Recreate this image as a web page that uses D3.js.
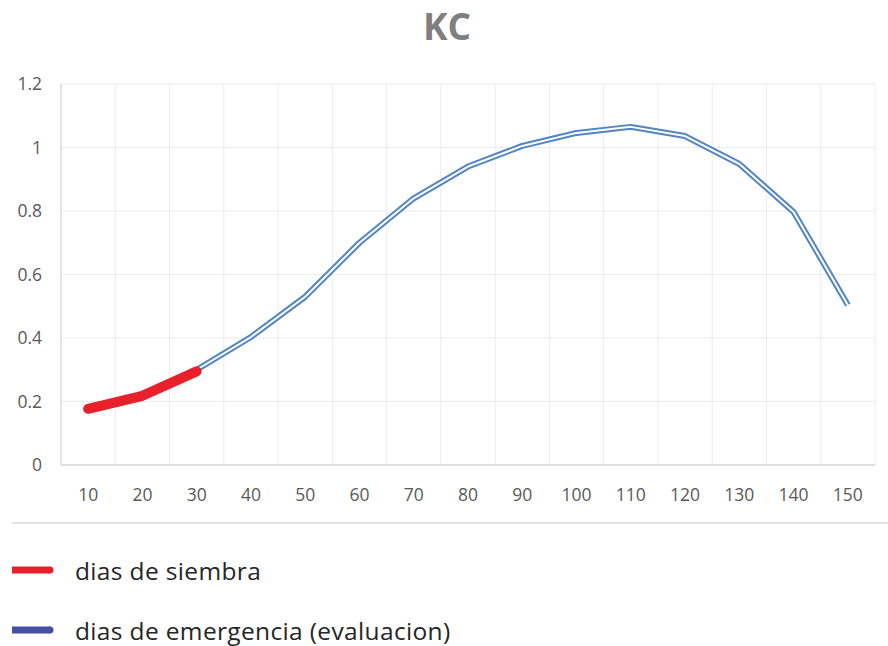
<!DOCTYPE html>
<html>
<head>
<meta charset="utf-8">
<script src="https://cdn.jsdelivr.net/npm/d3@7"></script>
<style>
  body { margin: 0; background: #fff; }
  svg { display: block; font-family: "Open Sans", "Liberation Sans", sans-serif; }
</style>
</head>
<body>
<svg id="chart" width="888" height="646"></svg>
<script>
const categories = [10, 20, 30, 40, 50, 60, 70, 80, 90, 100, 110, 120, 130, 140, 150];
const siembraDays = [10, 20, 30];
const siembraValues = [0.177, 0.218, 0.295];
const emergenciaValues = [0.18, 0.215, 0.30, 0.403, 0.53, 0.70, 0.84, 0.94, 1.005, 1.046, 1.065, 1.036, 0.948, 0.797, 0.504];
const yTicks = [0, 0.2, 0.4, 0.6, 0.8, 1, 1.2];
const seriesNames = ["dias de siembra", "dias de emergencia (evaluacion)"];

(function () {
const svg = d3.select("#chart");
const pLeft = 61, pRight = 875, pTop = 84, pBottom = 465;

const x = d3.scaleBand().domain(categories).range([pLeft, pRight]).padding(0);
const y = d3.scaleLinear().domain([0, 1.2]).range([pBottom, pTop]);
const cx = d => x(d) + x.bandwidth() / 2;

// title
svg.append("text").attr("x", 447).attr("y", 40).attr("text-anchor", "middle")
  .attr("font-size", 37).attr("font-weight", "bold").attr("fill", "#7f7f7f").text("KC");

// horizontal gridlines
svg.append("g").selectAll("line").data(yTicks).join("line")
  .attr("x1", pLeft).attr("x2", pRight).attr("y1", d => y(d)).attr("y2", d => y(d))
  .attr("stroke", "#ececec").attr("stroke-width", 1);

// vertical gridlines at category boundaries
const bounds = categories.map(c => x(c)).concat([pRight]);
svg.append("g").selectAll("line").data(bounds).join("line")
  .attr("x1", d => d).attr("x2", d => d).attr("y1", pTop).attr("y2", pBottom)
  .attr("stroke", "#ececec").attr("stroke-width", 1);

// left and bottom axis lines
svg.append("line").attr("x1", pLeft).attr("x2", pLeft).attr("y1", pTop).attr("y2", pBottom)
  .attr("stroke", "#dcdcdc").attr("stroke-width", 1.5);
svg.append("line").attr("x1", pLeft).attr("x2", pRight).attr("y1", pBottom).attr("y2", pBottom)
  .attr("stroke", "#d9d9d9").attr("stroke-width", 1.5);

// y labels
svg.append("g").selectAll("text").data(yTicks).join("text")
  .attr("x", 42).attr("y", d => y(d) + 6).attr("text-anchor", "end")
  .attr("font-size", 17.5).attr("fill", "#595959").text(d => d);

// x labels
svg.append("g").selectAll("text").data(categories).join("text")
  .attr("x", d => cx(d)).attr("y", 501).attr("text-anchor", "middle")
  .attr("font-size", 17.5).attr("fill", "#595959").text(d => d);

// separator
svg.append("line").attr("x1", 12).attr("x2", 888).attr("y1", 523).attr("y2", 523)
  .attr("stroke", "#d9d9d9").attr("stroke-width", 1.5);

// blue double line
const lineE = d3.line().x((d, i) => cx(categories[i])).y(d => y(d));
svg.append("path").attr("d", lineE(emergenciaValues)).attr("fill", "none")
  .attr("stroke", "#5285c6").attr("stroke-width", 6).attr("stroke-linejoin", "round");
svg.append("path").attr("d", lineE(emergenciaValues)).attr("fill", "none")
  .attr("stroke", "#ffffff").attr("stroke-width", 2).attr("stroke-linejoin", "round");

// red thick line
const lineS = d3.line().x((d, i) => cx(siembraDays[i])).y(d => y(d));
svg.append("path").attr("d", lineS(siembraValues)).attr("fill", "none")
  .attr("stroke", "#e8202a").attr("stroke-width", 10).attr("stroke-linecap", "round").attr("stroke-linejoin", "round");

// legend
const legendColors = ["#e8202a", "#4550a0"];
const legendY = [570, 630];
seriesNames.forEach((name, i) => {
  svg.append("line").attr("x1", 12).attr("x2", 50).attr("y1", legendY[i]).attr("y2", legendY[i])
    .attr("stroke", legendColors[i]).attr("stroke-width", 7).attr("stroke-linecap", "butt");
  svg.append("circle").attr("cx", 50).attr("cy", legendY[i]).attr("r", 3.5).attr("fill", legendColors[i]);
  svg.append("text").attr("x", 75).attr("y", legendY[i] + 10).attr("font-size", 24.5)
    .attr("letter-spacing", 0.35).attr("fill", "#262626").text(name);
});
})();
</script>
</body>
</html>
